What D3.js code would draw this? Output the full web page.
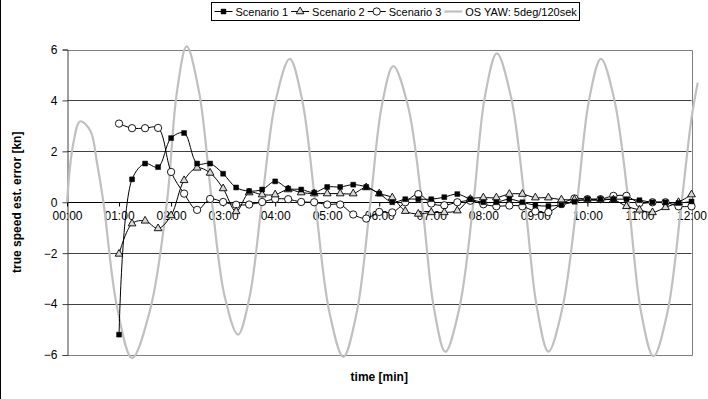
<!DOCTYPE html>
<html><head><meta charset="utf-8">
<script src="https://cdn.jsdelivr.net/npm/d3@7"></script>
<style>
body{margin:0;background:#fff;}
svg{display:block;font-family:"Liberation Sans",Arial,sans-serif;}
</style></head>
<body><div id="chart"></div>
<script>
// ---- data ----
const hours = [1.00,1.25,1.50,1.75,2.00,2.25,2.50,2.75,3.00,3.25,3.50,3.75,4.00,4.25,4.50,4.75,5.00,5.25,5.50,5.75,6.00,6.25,6.50,6.75,7.00,7.25,7.50,7.75,8.00,8.25,8.50,8.75,9.00,9.25,9.50,9.75,10.00,10.25,10.50,10.75,11.00,11.25,11.50,11.75,12.00];
const scenario1 = [-5.2,0.9,1.52,1.38,2.52,2.72,1.52,1.52,1.12,0.58,0.44,0.5,0.82,0.54,0.5,0.38,0.6,0.6,0.69,0.6,0.34,0.0,0.12,0.12,0.12,0.2,0.32,0.12,0.0,0.0,0.12,0.0,-0.12,-0.15,-0.1,0.02,0.12,0.12,0.12,0.12,0.08,0.0,0.0,-0.03,0.03];
const scenario2 = [-2.03,-0.84,-0.73,-1.03,-0.52,0.86,1.35,1.15,0.54,-0.36,0.38,0.3,0.3,0.5,0.38,0.34,0.34,0.34,0.34,0.58,0.34,0.18,-0.35,-0.46,-0.4,-0.4,-0.33,0.12,0.18,0.18,0.32,0.32,0.18,0.18,0.1,0.1,0.08,0.08,0.1,-0.16,-0.3,-0.4,-0.2,0.0,0.3];
const scenario3 = [3.09,2.91,2.91,2.92,1.19,0.34,-0.3,0.13,0.01,-0.1,-0.09,0.01,0.13,0.12,0.01,0.0,-0.09,-0.09,-0.48,-0.64,-0.38,-0.4,0.0,0.32,-0.05,-0.12,0.0,0.06,-0.08,-0.16,-0.13,-0.16,-0.36,-0.39,-0.07,0.15,0.12,0.12,0.25,0.25,-0.03,0.0,0.0,-0.16,-0.16];
const yawHours = [0,0.12,0.255,0.45,0.58,0.70,0.96,1.25,1.60,1.92,2.11,2.30,2.54,2.785,3.03,3.285,3.51,3.745,4.01,4.28,4.52,4.77,5.04,5.31,5.57,5.83,6.05,6.27,6.55,6.82,7.05,7.27,7.54,7.81,8.03,8.26,8.53,8.80,9.03,9.25,9.52,9.80,10.03,10.26,10.52,10.79,11.03,11.27,11.54,11.81,12.0,12.12];
const yawValues = [0,2.3,3.18,2.8,1.5,0,-4.1,-6.12,-4.2,0,4.3,6.12,4.3,0,-3.7,-5.2,-3.7,0,4.0,5.63,4.0,0,-4.3,-6.07,-4.3,0,3.8,5.35,3.8,0,-4.15,-5.87,-4.15,0,4.15,5.85,4.15,0,-4.15,-5.87,-4.15,0,4.0,5.63,4.0,0,-4.3,-6.05,-4.3,0,3.3,4.7];
const xTicks = [0,1,2,3,4,5,6,7,8,9,10,11,12];
const xTickLabels = ["00:00","01:00","02:00","03:00","04:00","05:00","06:00","07:00","08:00","09:00","10:00","11:00","12:00"];
const yTicks = [-6,-4,-2,0,2,4,6];
const seriesNames = ["Scenario 1","Scenario 2","Scenario 3","OS YAW: 5deg/120sek"];

// ---- layout ----
const W = 708, H = 399;
const svg = d3.select("#chart").append("svg").attr("width", W).attr("height", H);
const x = d3.scaleLinear().domain([0, 12]).range([67, 691.5]);
const y = d3.scaleLinear().domain([-6, 6]).range([355, 49.5]);
const L = x.range()[0], R = x.range()[1], T = y.range()[1], B = y.range()[0];

// chart frame line on left
svg.append("line").attr("x1", 0.5).attr("x2", 0.5).attr("y1", 0).attr("y2", H).attr("stroke", "#000");

// gridlines
svg.append("g").selectAll("line").data(yTicks).join("line")
  .attr("x1", L).attr("x2", R)
  .attr("y1", d => Math.round(y(d)) + 0.5).attr("y2", d => Math.round(y(d)) + 0.5)
  .attr("stroke", d => d === 0 ? "#000" : "#404040").attr("stroke-width", 1);
// plot border (top, right, bottom)
svg.append("path")
  .attr("d", `M${L},${Math.round(T)+0.5}H${Math.round(R)+0.5}V${Math.round(B)+0.5}H${L}`)
  .attr("fill", "none").attr("stroke", "#808080");

// y axis
const yAxis = svg.append("g").attr("transform", `translate(${Math.round(L)+0.5},0)`)
  .call(d3.axisLeft(y).tickValues(yTicks).tickSize(5).tickPadding(5).tickFormat(d3.format("d")));
yAxis.select(".domain").attr("stroke", "#404040");
yAxis.selectAll(".tick line").attr("stroke", "#404040");
yAxis.selectAll("text").attr("font-size", 12).attr("fill", "#000").style("font-family", "'Liberation Sans',Arial,sans-serif");

// x axis at zero
const xAxis = svg.append("g").attr("transform", `translate(0,${Math.round(y(0))+0.5})`)
  .call(d3.axisBottom(x).tickValues(xTicks).tickSize(4).tickPadding(5).tickFormat((d, i) => xTickLabels[i]));
xAxis.select(".domain").remove();
xAxis.selectAll(".tick line").attr("stroke", "#000");
xAxis.selectAll("text").attr("font-size", 12).attr("fill", "#000").style("font-family", "'Liberation Sans',Arial,sans-serif");

// OS YAW grey line
const yawData = yawHours.map((h, i) => [h, yawValues[i]]);
svg.append("path").datum(yawData)
  .attr("d", d3.line().x(d => x(d[0])).y(d => y(d[1])).curve(d3.curveCatmullRom.alpha(0.5)))
  .attr("fill", "none").attr("stroke", "#c0c0c0").attr("stroke-width", 2.2);

// scenario lines
const line = d3.line().x(d => x(d[0])).y(d => y(d[1])).curve(d3.curveCatmullRom.alpha(0.5));
const sers = [scenario1, scenario2, scenario3].map(v => hours.map((h, i) => [h, v[i]]));
sers.forEach(s => {
  svg.append("path").datum(s).attr("d", line).attr("fill", "none").attr("stroke", "#000").attr("stroke-width", 1);
});

const sym = {
  square: d3.symbol().type(d3.symbolSquare).size(24),
  triangle: d3.symbol().type(d3.symbolTriangle).size(26),
  circle: d3.symbol().type(d3.symbolCircle).size(42)
};
function markers(data, kind) {
  const g = svg.append("g");
  g.selectAll("path").data(data).join("path")
    .attr("transform", d => `translate(${x(d[0])},${y(d[1])})`)
    .attr("d", sym[kind]())
    .attr("fill", kind === "square" ? "#000" : (kind === "triangle" ? "#d8d8d8" : "#fff"))
    .attr("stroke", "#000").attr("stroke-width", kind === "square" ? 0.5 : 0.9);
}
markers(sers[2], "circle");
markers(sers[1], "triangle");
markers(sers[0], "square");

// axis titles
svg.append("text").attr("x", (L + R) / 2).attr("y", 381).attr("text-anchor", "middle")
  .attr("font-size", 12).attr("font-weight", "bold").text("time [min]");
svg.append("text").attr("transform", `translate(21,${(T + B) / 2}) rotate(-90)`).attr("text-anchor", "middle")
  .attr("font-size", 12).attr("font-weight", "bold").text("true speed est. error [kn]");

// legend
const lg = svg.append("g");
const kinds = ["square", "triangle", "circle", "grey"];
const sampleW = 18, gap = 3, itemGap = 3, pad = 3;
const items = [];
seriesNames.forEach((name, i) => {
  const it = lg.append("g");
  it.append("line").attr("x1", 0).attr("x2", sampleW).attr("y1", 0).attr("y2", 0)
    .attr("stroke", kinds[i] === "grey" ? "#c0c0c0" : "#000").attr("stroke-width", kinds[i] === "grey" ? 2.2 : 1);
  if (kinds[i] !== "grey") {
    it.append("path").attr("transform", `translate(${sampleW / 2},0)`).attr("d", sym[kinds[i]]())
      .attr("fill", kinds[i] === "square" ? "#000" : (kinds[i] === "triangle" ? "#d8d8d8" : "#fff"))
      .attr("stroke", "#000").attr("stroke-width", kinds[i] === "square" ? 0.5 : 0.9);
  }
  const t = it.append("text").attr("x", sampleW + gap).attr("y", 4).attr("font-size", 11).text(name);
  const w = sampleW + gap + t.node().getComputedTextLength();
  items.push({ it, w });
});
let total = pad;
items.forEach(o => { o.x = total; total += o.w + itemGap; });
total = total - itemGap + pad;
const lx = Math.round(395.5 - total / 2) + 0.5, ly = 2.5, lh = 18;
lg.insert("rect", ":first-child").attr("x", lx).attr("y", ly).attr("width", Math.round(total)).attr("height", lh)
  .attr("fill", "#fff").attr("stroke", "#000");
items.forEach(o => o.it.attr("transform", `translate(${lx + o.x},${ly + lh / 2})`));
</script>
</body></html>
